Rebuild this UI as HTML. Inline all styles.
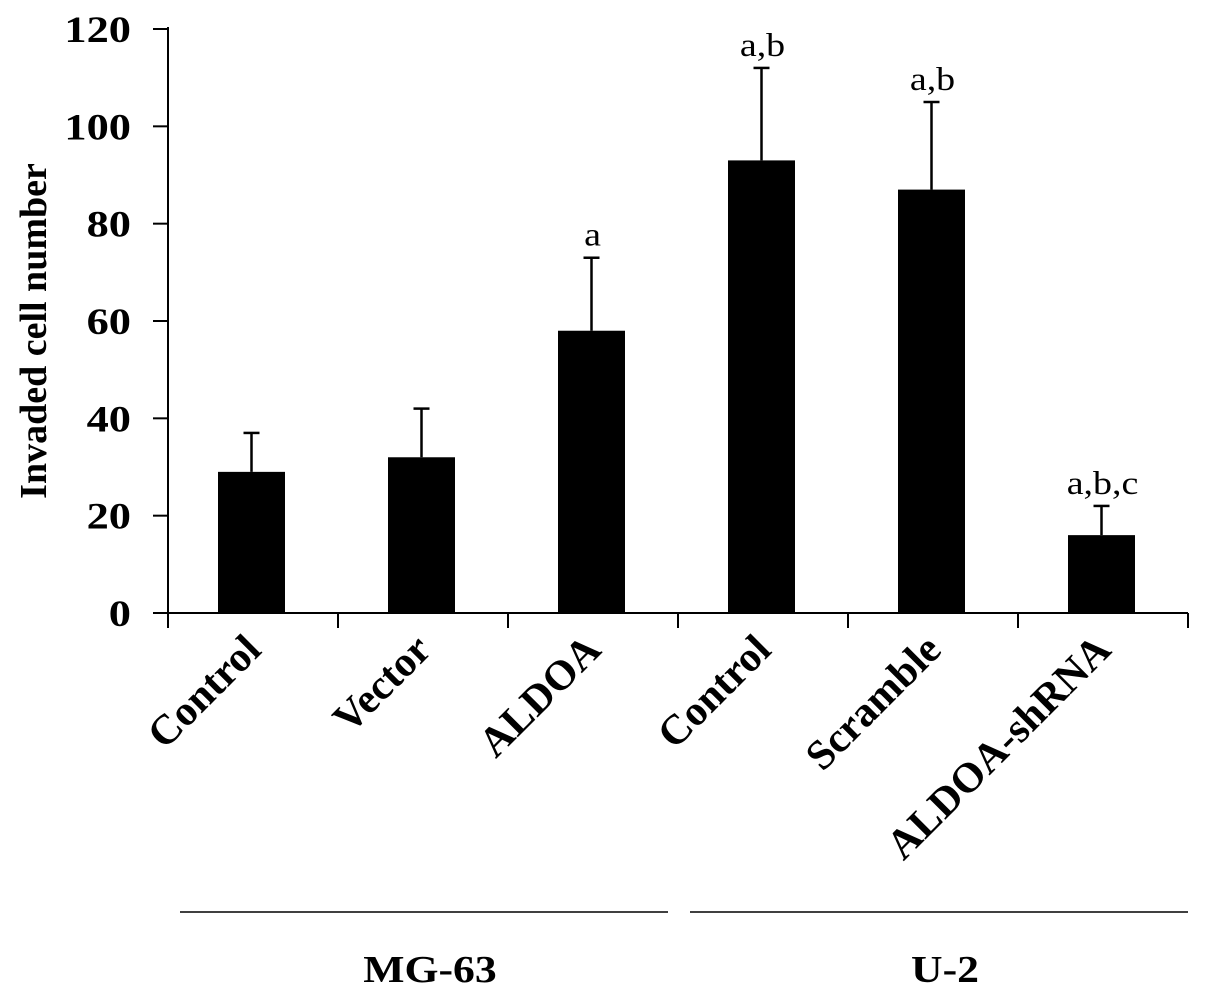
<!DOCTYPE html>
<html><head><meta charset="utf-8"><style>body{margin:0;background:#fff}svg{display:block}</style></head>
<body>
<svg id="chart" width="1205" height="992" xmlns="http://www.w3.org/2000/svg" font-family="Liberation Serif, serif"></svg>
<script>
const categories = ["Control","Vector","ALDOA","Control","Scramble","ALDOA-shRNA"];
const values = [29, 32, 58, 93, 87, 16];
const errors = [8, 10, 15, 19, 18, 6];
const sigLabels = ["", "", "a", "a,b", "a,b", "a,b,c"];
const yTicks = [0, 20, 40, 60, 80, 100, 120];
const groups = [{name:"MG-63", from:0, to:2}, {name:"U-2", from:3, to:5}];

const svg = document.getElementById('chart');
const NS = "http://www.w3.org/2000/svg";
const FF = "'Liberation Serif', serif";
const x0 = 168, x1 = 1188, yZero = 613, yTop = 29, yMax = 120;
const band = (x1 - x0) / categories.length;
const yScale = v => yZero - v / yMax * (yZero - yTop);
const xCenter = i => x0 + band * (i + 0.5);
function mk(tag, attrs, text) {
  const e = document.createElementNS(NS, tag);
  for (const k in attrs) e.setAttribute(k, attrs[k]);
  if (text !== undefined) { e.textContent = text; e.style.fontFamily = FF; }
  svg.appendChild(e);
  return e;
}
values.forEach((v, i) => {
  const cx = xCenter(i) - 1.5;
  const r = mk('rect', {x: cx - 33.5, y: yScale(v), width: 67, height: yZero - yScale(v), fill: '#000'});
  
  
  const ly = yScale(v + errors[i]);
  const e1 = mk('line', {x1: cx, x2: cx, y1: yScale(v), y2: ly, stroke: '#000', 'stroke-width': 2.5});
  
  
  const e2 = mk('line', {x1: cx - 8, x2: cx + 8, y1: ly, y2: ly, stroke: '#000', 'stroke-width': 2.5});
  
  
  if (sigLabels[i]) {
    const t = mk('text', {'text-anchor': 'middle', 'font-size': 33, transform: `translate(${cx + 1},${ly - 12}) scale(1.15,1)`}, sigLabels[i]);
    
    
  }
  const lx = xCenter(i) + 10, lyy = 652;
  const tl = mk('text', {x: lx, y: lyy, 'text-anchor': 'end', 'font-size': 42, 'font-weight': 'bold', transform: `rotate(-45 ${lx} ${lyy})`}, categories[i]);
  
  
});
const ya = mk('line', {x1: x0, x2: x0, y1: 27, y2: 628, stroke: '#000', 'stroke-width': 2});


const xa = mk('line', {x1: 153, x2: x1, y1: yZero, y2: yZero, stroke: '#000', 'stroke-width': 2});


for (let i = 1; i <= categories.length; i++) {
  const tk = mk('line', {x1: x0 + band * i, x2: x0 + band * i, y1: yZero, y2: 628, stroke: '#000', 'stroke-width': 2});
  
  
}
yTicks.forEach(v => {
  const y = yScale(v);
  const tk = mk('line', {x1: 153, x2: x0, y1: y, y2: y, stroke: '#000', 'stroke-width': 2});
  
  
  const t = mk('text', {'text-anchor': 'end', 'font-size': 37, 'font-weight': 'bold', transform: `translate(131,${y + 13}) scale(1.2,1)`}, v);
  
  
});
const yt = mk('text', {x: 46, y: 331, 'text-anchor': 'middle', 'font-size': 38, 'font-weight': 'bold', transform: 'rotate(-90 46 331)'}, 'Invaded cell number');


groups.forEach((g, k) => {
  const gx0 = x0 + band * g.from + 12, gx1 = x0 + band * (g.to + 1) - (k === 0 ? 10 : 0);
  const l = mk('line', {x1: gx0, x2: gx1, y1: 912, y2: 912, stroke: '#000', 'stroke-width': 1.5});
  
  
  const t = mk('text', {'text-anchor': 'middle', 'font-size': 38, 'font-weight': 'bold', transform: `translate(${(gx0 + gx1) / 2 + 6},982) scale(1.15,1)`}, g.name);
  
  
});
</script>
</body></html>
